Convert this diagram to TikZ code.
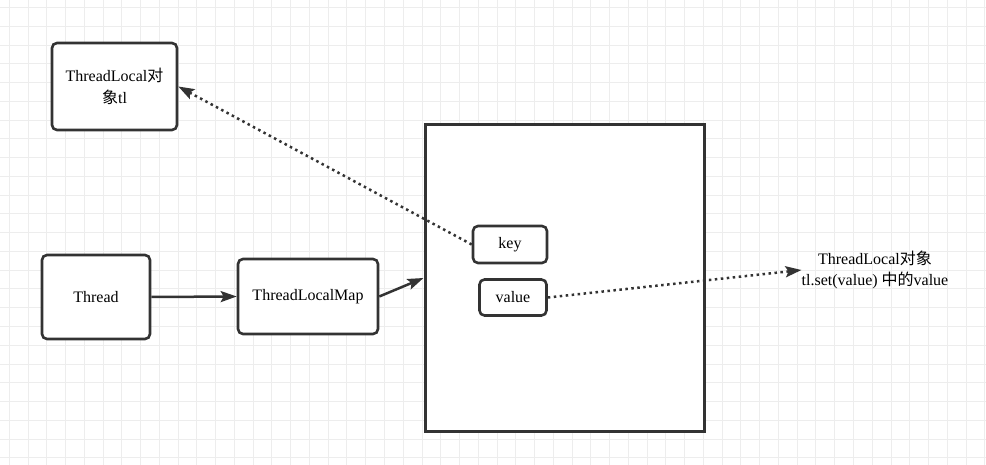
\documentclass[tikz,border=0pt]{standalone}
\usepackage{fontspec}
\setmainfont{Liberation Serif}
\newfontfamily\cjk{Noto Sans CJK SC}
\usetikzlibrary{arrows.meta}
\definecolor{edge}{HTML}{333333}
\definecolor{gridc}{HTML}{EDEDED}
\tikzset{
  box/.style={draw=edge, line width=2.6pt, rounded corners=5pt, fill=white, inner sep=0pt, align=center, text=black, font=\fontsize{16}{22}\selectfont},
  bigbox/.style={draw=edge, line width=3pt, fill=white, inner sep=0pt},
  conn/.style={draw=edge, line width=2.5pt, -{Stealth[length=16pt,width=11pt,inset=3pt]}},
  dotconn/.style={conn, dash pattern=on 2.5pt off 3.5pt},
  plain/.style={inner sep=0pt, align=center, font=\fontsize{16}{21}\selectfont, text=black}
}
\begin{document}
\begin{tikzpicture}[x=1pt,y=-1pt]
\useasboundingbox (0,0) rectangle (986,465);
\fill[white] (0,0) rectangle (986,465);
\foreach \i in {0,...,52} \draw[gridc, line width=1pt] ({9.3+\i*18.76},0) -- ({9.3+\i*18.76},465);
\foreach \j in {0,...,24} \draw[gridc, line width=1pt] (0,{7.6+\j*18.76}) -- (986,{7.6+\j*18.76});

\node[box, minimum width=125pt, minimum height=87pt] (tl) at (114.5,86.5) {ThreadLocal{\cjk 对}\\{\cjk 象}tl};
\node[box, minimum width=108pt, minimum height=84pt] (thread) at (96,297) {Thread};
\node[box, minimum width=140pt, minimum height=75pt] (map) at (308,296.5) {ThreadLocalMap};
\node[bigbox, minimum width=279pt, minimum height=306pt] (big) at (564.5,278) {};
\node[box, minimum width=74pt, minimum height=37pt] (key) at (510,244.5) {key};
\node[box, minimum width=67pt, minimum height=36pt] (value) at (513,297.5) {value};
\node[plain] (txt) at (875,270) {ThreadLocal{\cjk 对象}\\tl.set(value) {\cjk 中的}value};

\draw[conn] (thread.east) -- (map.west);
\draw[conn] (map.east) -- (big.west);
\draw[dotconn] (key.west) -- (tl.east);
\draw[dotconn] (value.east) -- (txt.west);
\end{tikzpicture}
\end{document}
